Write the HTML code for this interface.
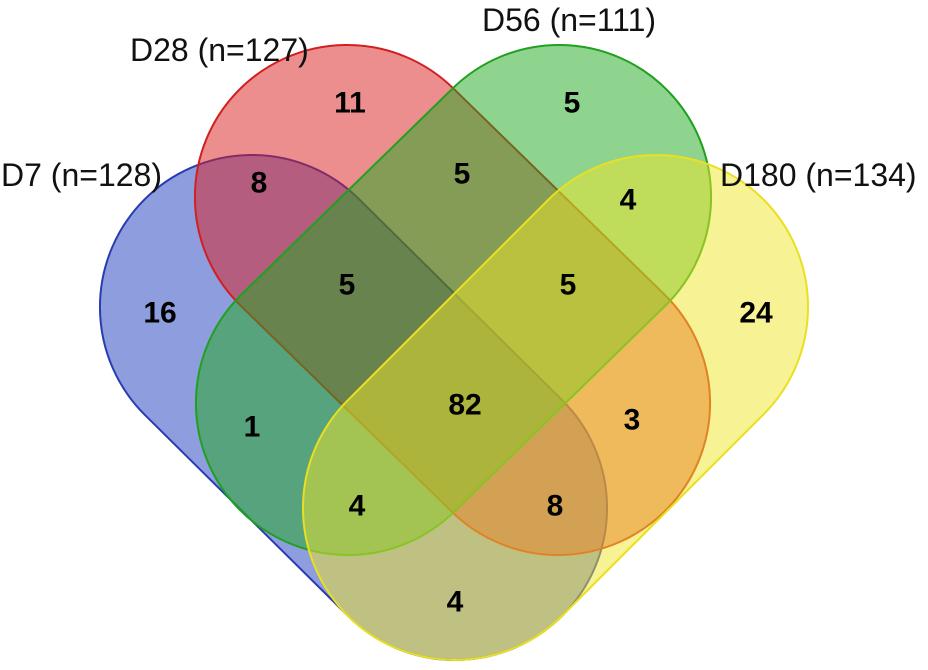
<!DOCTYPE html>
<html><head><style>
html,body{margin:0;padding:0;background:#fff;overflow:hidden;}
svg{display:block;}
text{font-family:"Liberation Sans",Arial,sans-serif;}
.n{font-weight:bold;font-size:30px;text-anchor:middle;dominant-baseline:central;fill:#000;}
.l{font-size:32px;fill:#111;}
</style></head><body>
<svg width="928" height="670" viewBox="0 0 928 670" xmlns="http://www.w3.org/2000/svg">
<rect x="0" y="0" width="928" height="670" fill="#fff"/>
<g stroke-width="2">
<rect x="-294.85" y="-152" width="589.7" height="304" rx="152" transform="translate(353.5,407.5) rotate(44.7)" fill="rgba(30,60,190,0.5)" stroke="#2a3cb0"/>
<rect x="-299.5" y="-152" width="599" height="304" rx="152" transform="translate(452.5,300) rotate(44.3)" fill="rgba(220,30,30,0.5)" stroke="#d02020"/>
<rect x="-299.5" y="-152" width="599" height="304" rx="152" transform="translate(453.5,300) rotate(135.7)" fill="rgba(30,170,30,0.5)" stroke="#20a020"/>
<rect x="-294.15" y="-152" width="588.3" height="304" rx="152" transform="translate(555.5,407.5) rotate(135)" fill="rgba(240,230,40,0.5)" stroke="#e8e020"/>
</g>
<text class="l" x="1" y="186">D7 (n=128)</text>
<text class="l" x="130" y="61">D28 (n=127)</text>
<text class="l" x="482" y="31">D56 (n=111)</text>
<text class="l" x="720" y="186">D180 (n=134)</text>
<text class="n" x="350" y="103">11</text>
<text class="n" x="572" y="103">5</text>
<text class="n" x="259" y="183">8</text>
<text class="n" x="462" y="174">5</text>
<text class="n" x="628" y="200">4</text>
<text class="n" x="160" y="313">16</text>
<text class="n" x="347" y="285">5</text>
<text class="n" x="568" y="285">5</text>
<text class="n" x="756" y="313">24</text>
<text class="n" x="465" y="405">82</text>
<text class="n" x="252" y="427">1</text>
<text class="n" x="632" y="420">3</text>
<text class="n" x="357" y="506">4</text>
<text class="n" x="555" y="506">8</text>
<text class="n" x="455" y="602">4</text>
</svg>
</body></html>
